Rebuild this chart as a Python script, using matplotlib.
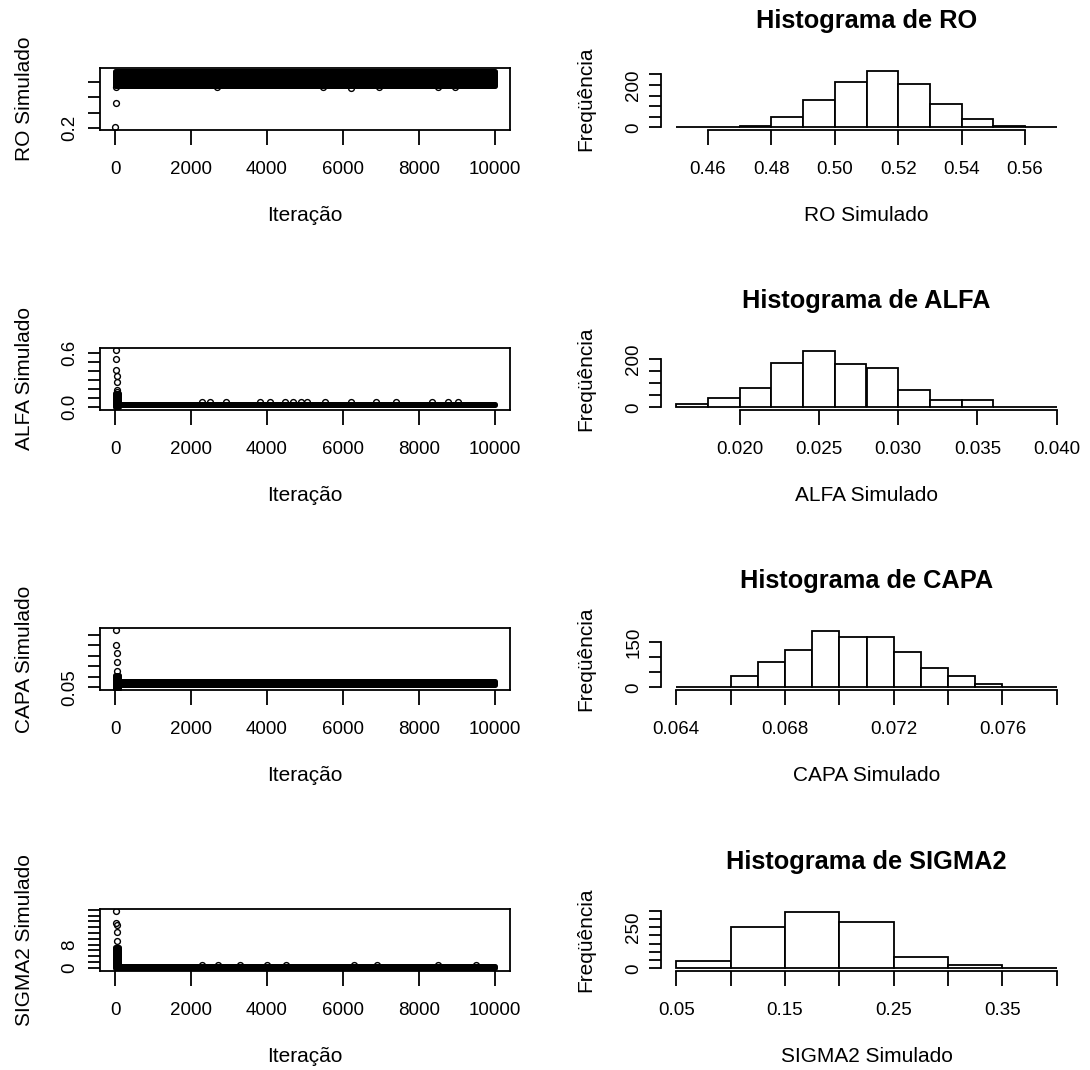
import matplotlib
matplotlib.use("Agg")
import matplotlib.pyplot as plt

W, H = 1090, 1070

# ---------------- trace plots ----------------
iter_ticks = [0, 2000, 4000, 6000, 8000, 10000]

# RO
ro_band_iter = [1, 10000]
ro_band_lo = [0.474, 0.474]
ro_band_hi = [0.569, 0.569]
ro_pts_iter = [8, 14, 20, 2670, 5470, 6220, 6960, 8500, 8940]
ro_pts_val = [0.207, 0.363, 0.465, 0.464, 0.466, 0.463, 0.465, 0.464, 0.466]
ro_yticks = [0.2, 0.3, 0.4, 0.5]
ro_ylabels = ["0.2", "", "", ""]

# ALFA
alfa_band_iter = [1, 90, 10000]
alfa_band_lo = [0.0, 0.017, 0.017]
alfa_band_hi = [0.15, 0.036, 0.036]
alfa_pts_iter = [30, 32, 34, 36, 38, 40, 42,
                 2275, 2494, 2932, 3809, 4090, 4467, 4686, 4905, 5054,
                 5519, 6220, 6878, 7404, 8351, 8763, 9026]
alfa_pts_val = [0.637, 0.533, 0.414, 0.34, 0.284, 0.192, 0.162,
                0.052, 0.052, 0.052, 0.052, 0.052, 0.052, 0.052, 0.052, 0.052,
                0.052, 0.052, 0.052, 0.052, 0.052, 0.052, 0.052]
alfa_yticks = [0.0, 0.1, 0.2, 0.3, 0.4, 0.5, 0.6]
alfa_ylabels = ["0.0", "", "", "", "", "", "0.6"]

# CAPA
capa_band_iter = [1, 90, 10000]
capa_band_lo = [0.04, 0.062, 0.062]
capa_band_hi = [0.11, 0.080, 0.080]
capa_pts_iter = [30, 34, 38, 42, 46]
capa_pts_val = [0.323, 0.252, 0.213, 0.173, 0.126]
capa_yticks = [0.05, 0.10, 0.15, 0.20, 0.25, 0.30]
capa_ylabels = ["0.05", "", "", "", "", ""]

# SIGMA2
sig_band_iter = [1, 90, 10000]
sig_band_lo = [0.0, 0.05, 0.05]
sig_band_hi = [7.0, 0.45, 0.45]
sig_pts_iter = [30, 34, 38, 42, 46,
                2300, 2700, 3300, 4000, 4500, 6300, 6900, 8500, 9500]
sig_pts_val = [19.6, 15.4, 14.6, 12.3, 9.4,
               0.9, 0.9, 0.9, 0.9, 0.9, 0.9, 0.9, 0.9, 0.9]
sig_yticks = [0, 2, 4, 6, 8, 10, 12, 14, 16, 18, 20]
sig_ylabels = ["0", "", "", "", "8", "", "", "", "", "", ""]

# ---------------- histograms (counts) ----------------
ro_bins = [0.45, 0.46, 0.47, 0.48, 0.49, 0.50, 0.51, 0.52, 0.53, 0.54, 0.55, 0.56, 0.57]
ro_counts = [1, 1, 5, 48, 130, 215, 268, 204, 109, 38, 8, 1]
ro_xticks = [0.46, 0.48, 0.50, 0.52, 0.54, 0.56]
ro_xlabels = ["0.46", "0.48", "0.50", "0.52", "0.54", "0.56"]
ro_hyticks = [0, 50, 100, 150, 200, 250]
ro_hylabels = ["0", "", "", "", "200", ""]

alfa_bins = [0.016, 0.018, 0.020, 0.022, 0.024, 0.026, 0.028, 0.030,
             0.032, 0.034, 0.036, 0.038, 0.040]
alfa_counts = [15, 39, 78, 182, 234, 177, 161, 72, 31, 31, 1, 1]
alfa_xticks = [0.020, 0.025, 0.030, 0.035, 0.040]
alfa_xlabels = ["0.020", "0.025", "0.030", "0.035", "0.040"]
alfa_hyticks = [0, 50, 100, 150, 200]
alfa_hylabels = ["0", "", "", "", "200"]

capa_bins = [0.064, 0.065, 0.066, 0.067, 0.068, 0.069, 0.070, 0.071,
             0.072, 0.073, 0.074, 0.075, 0.076, 0.077, 0.078]
capa_counts = [1, 1, 38, 83, 123, 188, 168, 168, 117, 65, 38, 11, 2, 1]
capa_xticks = [0.064, 0.066, 0.068, 0.070, 0.072, 0.074, 0.076, 0.078]
capa_xlabels = ["0.064", "", "0.068", "", "0.072", "", "0.076", ""]
capa_hyticks = [0, 50, 100, 150]
capa_hylabels = ["0", "", "", "150"]

sig_bins = [0.05, 0.10, 0.15, 0.20, 0.25, 0.30, 0.35, 0.40]
sig_counts = [47, 253, 345, 279, 71, 21, 1]
sig_xticks = [0.05, 0.10, 0.15, 0.20, 0.25, 0.30, 0.35, 0.40]
sig_xlabels = ["0.05", "", "0.15", "", "0.25", "", "0.35", ""]
sig_hyticks = [0, 50, 100, 150, 200, 250, 300, 350]
sig_hylabels = ["0", "", "", "", "", "250", "", ""]

names = ["RO", "ALFA", "CAPA", "SIGMA2"]

# ---------------- style ----------------
TICK_FS = 13.5
LAB_FS = 15
TITLE_FS = 18.3
LW = 1.3

plt.rcParams["font.family"] = ["Liberation Sans", "DejaVu Sans"]

fig = plt.figure(figsize=(W / 100, H / 100), dpi=100)

row_top = [68.3, 348.3, 628.3, 909.3]
row_h = 61.3
left_x, left_w = 100, 410
right_x, right_w = 661, 411


def px_axes(x, top, w, h):
    return fig.add_axes([x / W, 1 - (top + h) / H, w / W, h / H])


def style_ticks(ax, ypad):
    ax.tick_params(axis="x", length=10.8, width=LW, pad=11.5, labelsize=TICK_FS)
    ax.tick_params(axis="y", length=9, width=LW, pad=ypad, labelsize=TICK_FS)
    for lab in ax.get_yticklabels():
        lab.set_rotation(90)
        lab.set_va("center")


def labels(ax, xlab, ylab, w):
    ax.set_xlabel(xlab, fontsize=LAB_FS)
    ax.xaxis.set_label_coords(0.5, -85.7 / row_h)
    ax.xaxis.label.set_va("center")
    ax.set_ylabel(ylab, fontsize=LAB_FS)
    ax.yaxis.set_label_coords(-75 / w, 0.5)
    ax.yaxis.label.set_va("center")


traces = [
    (ro_band_iter, ro_band_lo, ro_band_hi, ro_pts_iter, ro_pts_val, ro_yticks, ro_ylabels, (0.1895, 0.588)),
    (alfa_band_iter, alfa_band_lo, alfa_band_hi, alfa_pts_iter, alfa_pts_val, alfa_yticks, alfa_ylabels, (-0.03, 0.655)),
    (capa_band_iter, capa_band_lo, capa_band_hi, capa_pts_iter, capa_pts_val, capa_yticks, capa_ylabels, (0.039, 0.3315)),
    (sig_band_iter, sig_band_lo, sig_band_hi, sig_pts_iter, sig_pts_val, sig_yticks, sig_ylabels, (-1.0, 20.2)),
]

hists = [
    (ro_bins, ro_counts, ro_xticks, ro_xlabels, ro_hyticks, ro_hylabels),
    (alfa_bins, alfa_counts, alfa_xticks, alfa_xlabels, alfa_hyticks, alfa_hylabels),
    (capa_bins, capa_counts, capa_xticks, capa_xlabels, capa_hyticks, capa_hylabels),
    (sig_bins, sig_counts, sig_xticks, sig_xlabels, sig_hyticks, sig_hylabels),
]

for i, name in enumerate(names):
    # trace plot
    bi, blo, bhi, pi, pv, yt, yl, ylim = traces[i]
    ax = px_axes(left_x, row_top[i], left_w, row_h)
    ax.fill_between(bi, blo, bhi, step="post", facecolor="black",
                    edgecolor="black", linewidth=3.6, joinstyle="round")
    ax.plot(pi, pv, "o", ms=4.2, mfc="none", mec="black", mew=1.0)
    ax.set_xlim(1 - 0.04 * 9999, 10000 + 0.04 * 9999)
    ax.set_ylim(*ylim)
    ax.set_xticks(iter_ticks)
    ax.set_xticklabels([str(t) for t in iter_ticks])
    ax.set_yticks(yt)
    ax.set_yticklabels(yl)
    for sp in ax.spines.values():
        sp.set_linewidth(LW)
    style_ticks(ax, 7)
    labels(ax, "Iteração", name + " Simulado", left_w)

    # histogram
    bins, counts, xt, xl, hyt, hyl = hists[i]
    ax = px_axes(right_x, row_top[i], right_w, row_h)
    lefts = bins[:-1]
    widths = [b - a for a, b in zip(bins[:-1], bins[1:])]
    ax.bar(lefts, counts, width=widths, align="edge", facecolor="white",
           edgecolor="black", linewidth=LW)
    span = bins[-1] - bins[0]
    ax.set_xlim(bins[0] - 0.04 * span, bins[-1] + 0.04 * span)
    ax.set_ylim(-0.04 * max(counts), 1.04 * max(counts))
    ax.set_xticks(xt)
    ax.set_xticklabels(xl)
    ax.set_yticks(hyt)
    ax.set_yticklabels(hyl)
    for s in ["top", "right"]:
        ax.spines[s].set_visible(False)
    ax.spines["bottom"].set_bounds(xt[0], xt[-1])
    ax.spines["left"].set_bounds(hyt[0], hyt[-1])
    ax.spines["bottom"].set_linewidth(LW)
    ax.spines["left"].set_linewidth(LW)
    style_ticks(ax, 4.5)
    labels(ax, name + " Simulado", "Freqüência", right_w)
    ax.set_title("Histograma de " + name, y=1 + 47 / row_h, pad=0, va="center",
                 fontsize=TITLE_FS, fontweight="bold")

fig.savefig("out.png", dpi=100)
